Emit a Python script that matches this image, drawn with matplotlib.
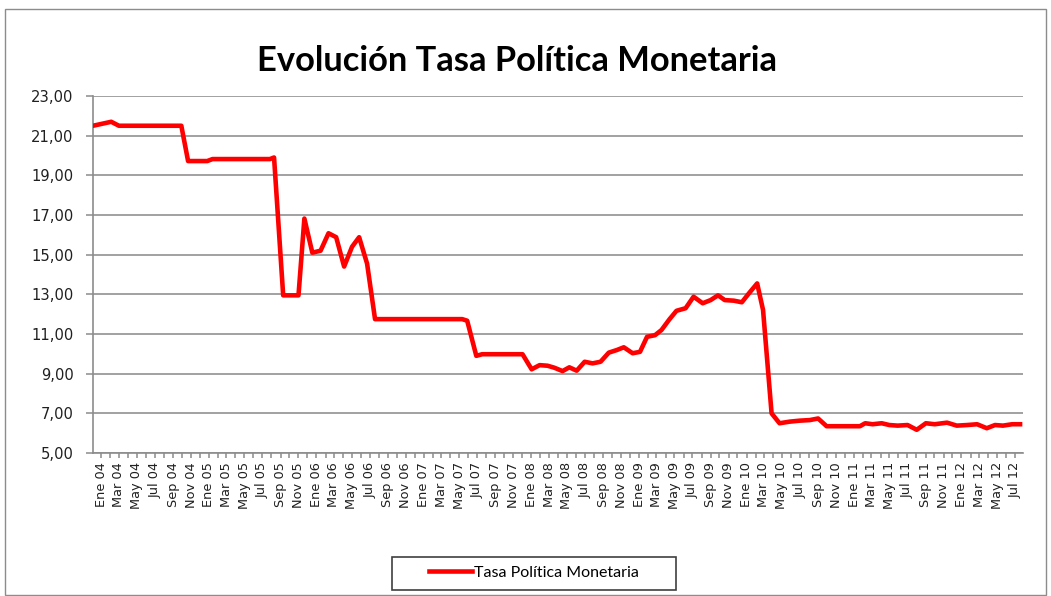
import matplotlib
matplotlib.use('Agg')
import matplotlib.pyplot as plt
import pandas as pd
from matplotlib.patches import Rectangle
from matplotlib.ticker import FixedLocator, FuncFormatter

# ---- data ----
dates = [
    '2003-12-04', '2004-01-04', '2004-02-04', '2004-03-01', '2004-09-29', '2004-10-22',
    '2004-12-26', '2005-01-13', '2005-07-27', '2005-08-10', '2005-09-10', '2005-11-01',
    '2005-11-21', '2005-12-18', '2006-01-15', '2006-02-11', '2006-03-09', '2006-04-05',
    '2006-05-02', '2006-05-26', '2006-06-22', '2006-07-19', '2007-05-11', '2007-05-28',
    '2007-06-28', '2007-07-18', '2007-12-02', '2008-01-02', '2008-01-29', '2008-02-25',
    '2008-03-19', '2008-04-16', '2008-05-09', '2008-06-03', '2008-06-30', '2008-07-27',
    '2008-08-23', '2008-09-20', '2008-10-17', '2008-11-10', '2008-12-10', '2009-01-04',
    '2009-01-28', '2009-02-24', '2009-03-18', '2009-04-14', '2009-05-08', '2009-06-08',
    '2009-07-05', '2009-08-05', '2009-09-01', '2009-09-26', '2009-10-19', '2009-11-19',
    '2009-12-16', '2010-01-09', '2010-02-06', '2010-02-26', '2010-03-27', '2010-04-23',
    '2010-05-27', '2010-06-30', '2010-08-04', '2010-09-01', '2010-09-30', '2011-01-21',
    '2011-02-08', '2011-03-05', '2011-04-05', '2011-05-01', '2011-05-29', '2011-07-02',
    '2011-08-02', '2011-09-02', '2011-10-02', '2011-11-13', '2011-12-16', '2012-01-20',
    '2012-02-23', '2012-03-27', '2012-04-24', '2012-05-21', '2012-06-21', '2012-07-18',
]
values = [
    21.50, 21.60, 21.70, 21.50, 21.50, 19.72,
    19.72, 19.82, 19.82, 19.90, 12.95, 12.95,
    16.82, 15.10, 15.20, 16.08, 15.88, 14.40,
    15.40, 15.88, 14.55, 11.75, 11.75, 11.67,
    9.90, 9.98, 9.98, 9.22, 9.43, 9.40,
    9.30, 9.13, 9.32, 9.15, 9.60, 9.52,
    9.60, 10.06, 10.19, 10.33, 10.03, 10.10,
    10.86, 10.94, 11.20, 11.74, 12.17, 12.30,
    12.88, 12.55, 12.71, 12.95, 12.71, 12.68,
    12.60, 13.05, 13.55, 12.21, 7.00, 6.50,
    6.58, 6.63, 6.66, 6.74, 6.35, 6.35,
    6.50, 6.45, 6.50, 6.41, 6.38, 6.41,
    6.17, 6.50, 6.45, 6.53, 6.38, 6.41,
    6.45, 6.25, 6.41, 6.38, 6.45, 6.45,
]
series_name = 'Tasa Política Monetaria'
title = 'Evolución Tasa Política Monetaria'
month_names = ['Ene', 'Feb', 'Mar', 'Abr', 'May', 'Jun',
               'Jul', 'Ago', 'Sep', 'Oct', 'Nov', 'Dic']
y_ticks = [5, 7, 9, 11, 13, 15, 17, 19, 21, 23]
label_start, label_end = '2004-01-01', '2012-07-01'
x_start, x_end = '2003-12-04', '2012-07-28'

# ---- figure ----
W, H = 1051, 596
fig = plt.figure(figsize=(W / 100, H / 100), dpi=100)
fig.patch.set_facecolor('white')

# outer chart border
fig.patches.append(Rectangle((5 / W, 1 / H), 1041 / W, 586 / H, transform=fig.transFigure,
                             fill=False, ec='#8c8c8c', lw=1.0))

ax = fig.add_axes([93 / W, (H - 453) / H, 930 / W, 357 / H])
x = pd.to_datetime(dates)
ax.plot(x, values, color='#ff0000', lw=3.3, solid_joinstyle='round', label=series_name, zorder=3)

ax.set_ylim(5, 23)
ax.set_xlim(pd.Timestamp(x_start), pd.Timestamp(x_end))
ax.yaxis.set_major_locator(FixedLocator(y_ticks))
ax.yaxis.set_major_formatter(FuncFormatter(lambda v, p: f'{v:.2f}'.replace('.', ',')))
ax.grid(axis='y', color='#9a9a9a', lw=1.3, zorder=1)
ax.set_axisbelow(True)

tick_dates = pd.date_range(label_start, label_end, freq='2MS')
tick_labels = [f'{month_names[d.month - 1]} {d.year % 100:02d}' for d in tick_dates]
ax.set_xticks(tick_dates)
ax.set_xticklabels(tick_labels, rotation=90, fontsize=9.3, color='#202020', family='DejaVu Sans')
minor_dates = pd.date_range('2004-02-01', '2012-06-01', freq='2MS')
ax.set_xticks(minor_dates, minor=True)
for lab in ax.get_yticklabels():
    lab.set_family('DejaVu Sans')

for s in ['top', 'right']:
    ax.spines[s].set_visible(False)
for s in ['left', 'bottom']:
    ax.spines[s].set_color('#8c8c8c')
    ax.spines[s].set_linewidth(1.2)

ax.tick_params(axis='y', length=5, width=1.1, color='#8c8c8c', pad=9,
               labelsize=10.6, labelcolor='#202020', labelfontfamily='DejaVu Sans')
ax.tick_params(axis='x', which='both', length=3.5, width=1.1, color='#8c8c8c', pad=3)

fig.text(517 / W, 1 - 61 / H, title, ha='center', va='center',
         fontsize=24.8, fontweight='bold', family='Lato', color='#000000')

# legend
fig.patches.append(Rectangle((392 / W, (H - 590) / H), 284 / W, 33 / H, transform=fig.transFigure,
                             fill=False, ec='#404040', lw=1.2))
leg = fig.legend(loc='center', bbox_to_anchor=(534 / W, 1 - 573 / H), frameon=False,
                 handlelength=2.7, handletextpad=0.1, prop={'family': 'Lato', 'size': 11.5})

fig.savefig('out.png', dpi=100, facecolor='white')
